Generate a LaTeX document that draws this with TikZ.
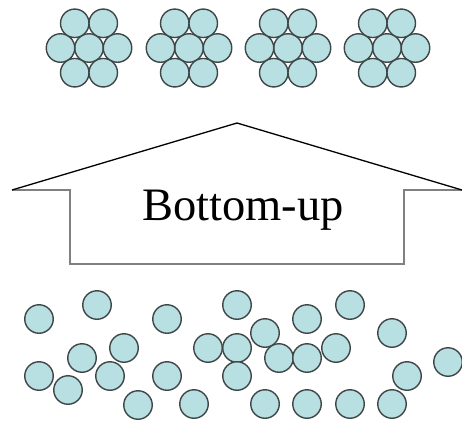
\documentclass[tikz,border=0pt]{standalone}
\usepackage{fontspec}
\setmainfont{Liberation Serif}
\definecolor{ballfill}{HTML}{B8DFE2}
\definecolor{ballline}{HTML}{3E4646}
\definecolor{shaftgray}{HTML}{808080}
\tikzset{
  ball/.style={circle, draw=ballline, fill=ballfill, line width=1.4pt,
    minimum size=28.5pt, inner sep=0pt},
}
\begin{document}
\begin{tikzpicture}[x=1pt, y=-1pt]
\useasboundingbox (0,0) rectangle (462,421);

% packed clusters: one centre ball with six neighbours
\foreach \c [count=\k] in {89,189,288,387} {
  \node[ball] (c\k-0) at (\c,48) {};
  \node[ball] (c\k-1) at (\c-28.5,48) {};
  \node[ball] (c\k-2) at (\c+28.5,48) {};
  \node[ball] (c\k-3) at (\c-14.25,23.3) {};
  \node[ball] (c\k-4) at (\c+14.25,23.3) {};
  \node[ball] (c\k-5) at (\c-14.25,72.7) {};
  \node[ball] (c\k-6) at (\c+14.25,72.7) {};
}

% block arrow pointing up
\coordinate (apex) at (237,123);
\coordinate (ltip) at (12,190);
\coordinate (rtip) at (462,190);
\coordinate (lsh) at (70,190);
\coordinate (rsh) at (404,190);
\coordinate (lbot) at (70,264);
\coordinate (rbot) at (404,264);
\draw[shaftgray, line width=1.4pt, line join=miter] (ltip) -- (lsh) -- (lbot) -- (rbot) -- (rsh) -- (rtip);
\draw[black, line width=1.3pt, line join=miter] (ltip) -- (apex) -- (rtip);
\node (label) at (243,210) {\fontsize{46.5}{52}\selectfont Bottom-up};

% scattered single balls
\foreach \x/\y [count=\k] in {
  39/319, 97/305, 167/319, 82/358, 124/348, 39/376, 68/390, 110/376,
  167/376, 138/405, 194/404, 208/348,
  237/305, 237/348, 237/376, 265/333, 279/358, 307/358, 307/319,
  350/305, 336/348, 392/333, 448/362, 407/376, 265/404, 307/404,
  350/404, 392/404} {
  \node[ball] (s\k) at (\x,\y) {};
}
\end{tikzpicture}
\end{document}
